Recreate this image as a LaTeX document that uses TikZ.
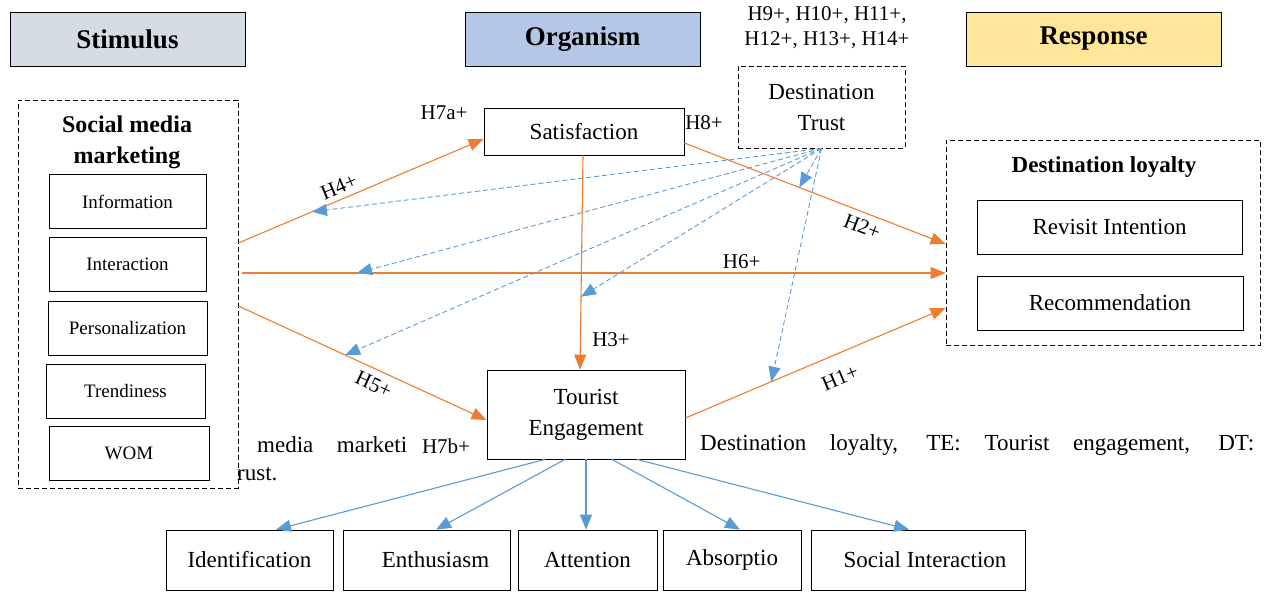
\documentclass[tikz,border=0pt]{standalone}
\usepackage{fontspec}
\setmainfont{Liberation Serif}[Ligatures=TeX]
\usepackage{tikz}
\usetikzlibrary{arrows.meta}

\definecolor{stimfill}{HTML}{D6DCE5}
\definecolor{orgfill}{HTML}{B4C7E7}
\definecolor{respfill}{HTML}{FFE699}
\definecolor{hypo}{HTML}{ED7D31}
\definecolor{trustblue}{HTML}{5B9BD5}

\begin{document}
\begin{tikzpicture}[
				x=1pt, y=-1pt,
				font=\rmfamily,
				head style/.style={
					draw,
					line width=1pt,
					inner sep=0pt,
					minimum width=235pt,
					minimum height=54pt,
					font=\rmfamily\fontsize{27}{30}\selectfont\bfseries
				},
				box style/.style={
					draw,
					line width=0.8pt,
					inner sep=0pt,
					align=center,
					font=\rmfamily\fontsize{23}{31}\selectfont
				},
				small box/.style={
					draw,
					line width=0.8pt,
					inner sep=0pt,
					minimum width=157pt,
					minimum height=54pt,
					font=\rmfamily\fontsize{19}{23}\selectfont
				},
				dash box/.style={
					draw,
					dash pattern=on 5pt off 3pt,
					line width=0.8pt,
					inner sep=0pt,
					align=center
				},
				hyp/.style={text=black, font=\rmfamily\fontsize{21}{25}\selectfont},
				note/.style={anchor=west, inner sep=0pt, font=\rmfamily\fontsize{23}{27}\selectfont},
				path arrow/.style={->, hypo, line width=1.1pt},
				trust arrow/.style={->, trustblue, dash pattern=on 5pt off 3pt, line width=0.9pt},
				dim arrow/.style={->, trustblue, line width=1.1pt},
				>={Triangle[length=15pt,width=12pt]}
				]
				
				\useasboundingbox (0,0) rectangle (1269,592);
				
				% headings
				\node[head style, fill=stimfill] (stim) at (127.5,39) {Stimulus};
				\node[head style, fill=orgfill] (org) at (582.5,39) {Organism};
				\node[head style, fill=respfill, minimum width=255pt] (resp) at (1093.5,39) {Response};
				\node[hyp, align=center] (dtlab) at (827,28) {H9+, H10+, H11+,\\H12+, H13+, H14+};
				
				% stimulus
				\node[dash box, minimum width=220pt, minimum height=388pt] (smm) at (128,294) {};
				\node[font=\rmfamily\fontsize{24}{31}\selectfont\bfseries, align=center] (smmt) at (127,142) {Social media\\marketing};
				\node[small box] (info) at (127.5,201.5) {Information};
				\node[small box] (inter) at (127.5,264) {Interaction};
				\node[small box, minimum width=159pt] (pers) at (127.5,328) {Personalization};
				\node[small box, minimum width=159pt] (trend) at (125.5,391) {Trendiness};
				\node[small box, minimum width=160pt] (wom) at (129,453) {WOM};
				
				% organism
				\node[box style, minimum width=200pt, minimum height=47pt] (sat) at (584,131.5) {Satisfaction};
				\node[dash box, font=\rmfamily\fontsize{23}{31}\selectfont, minimum width=167pt, minimum height=82pt] (dt) at (821.5,107) {Destination\\Trust};
				\node[box style, minimum width=198pt, minimum height=89pt] (te) at (586,414.5) {Tourist\\Engagement};
				
				% response
				\node[dash box, minimum width=314pt, minimum height=205pt] (dl) at (1103,242.5) {};
				\node[font=\rmfamily\fontsize{23}{27}\selectfont\bfseries] (dlt) at (1104,167) {Destination loyalty};
				\node[box style, minimum width=265pt, minimum height=54pt] (rev) at (1109.5,227) {Revisit Intention};
				\node[box style, minimum width=266pt, minimum height=54pt] (rec) at (1110,303) {Recommendation};
				
				% engagement dimensions
				\node[box style, minimum width=167pt, minimum height=60pt] (ident) at (249.5,560) {Identification};
				\node[box style, minimum width=167pt, minimum height=60pt] (enth) at (426.5,560) {\hspace{18pt}Enthusiasm};
				\node[box style, minimum width=139pt, minimum height=60pt] (attn) at (587.5,560) {Attention};
				\node[box style, minimum width=138pt, minimum height=60pt] (abs) at (732,560) {Absorptio};
				\node[box style, minimum width=214pt, minimum height=60pt] (soc) at (918,560) {\hspace{14pt}Social Interaction};
				
				% leftover caption text
				\node[note] (cap1) at (257,445) {\makebox[150pt][s]{media marketi}};
				\node[note] (cap2) at (237,474) {rust.};
				\node[note] (cap3) at (700,445) {\makebox[554pt][s]{Destination loyalty, TE: Tourist engagement, DT:}};
				
				\node[hyp] (h7a) at (444,113) {H7a+};
				\node[hyp] (h7b) at (446,446) {H7b+};
				\node[hyp] (h8) at (704,123) {H8+};
				
				% hypotheses
				\draw[path arrow] ([yshift=51pt]smm.east) -- coordinate[pos=0.3] (t4)
					node[hyp, pos=0.43, sloped, above=2pt] {H4+} ([yshift=-7.5pt]sat.west);
				\draw[path arrow] ([xshift=4pt, yshift=21pt]smm.east) -- coordinate[pos=0.163] (t6)
					node[hyp, pos=0.71, above] {H6+} ([yshift=-30.5pt]dl.west);
				\draw[path arrow] ([yshift=-12pt]smm.east) -- coordinate[pos=0.43] (t5)
					node[hyp, pos=0.57, sloped, below=4pt] {H5+} ([yshift=-5.5pt]te.west);
				\draw[path arrow] ([xshift=-1pt]sat.south) -- coordinate[pos=0.66] (t3)
					node[hyp, pos=0.86, right=8pt] {H3+} ([xshift=-6pt]te.north);
				\draw[path arrow] ([yshift=-11.5pt]sat.east) -- coordinate[pos=0.44] (t2)
					node[hyp, pos=0.7, sloped, below=3pt] {H2+} ([yshift=-1.5pt]dl.west);
				\draw[path arrow] ([yshift=-3.5pt]te.east) -- coordinate[pos=0.33] (t1)
					node[hyp, pos=0.56, sloped, below=12pt] {H1+} ([yshift=-65.5pt]dl.west);
				
				% moderating role of trust
				\foreach \target in {t4,t6,t5,t3,t2,t1}
				\draw[trust arrow] (dt.south) -- (\target);
				
				% dimensions of engagement
				\draw[dim arrow] ([xshift=-41pt]te.south) -- ([xshift=26.5pt]ident.north);
				\draw[dim arrow] ([xshift=-21pt]te.south) -- ([xshift=9.5pt]enth.north);
				\draw[dim arrow] (te.south) -- ([xshift=-1.5pt]attn.north);
				\draw[dim arrow] ([xshift=26pt]te.south) -- ([xshift=8pt]abs.north);
				\draw[dim arrow] ([xshift=51pt]te.south) -- ([xshift=-9pt]soc.north);
				
			\end{tikzpicture}
\end{document}
